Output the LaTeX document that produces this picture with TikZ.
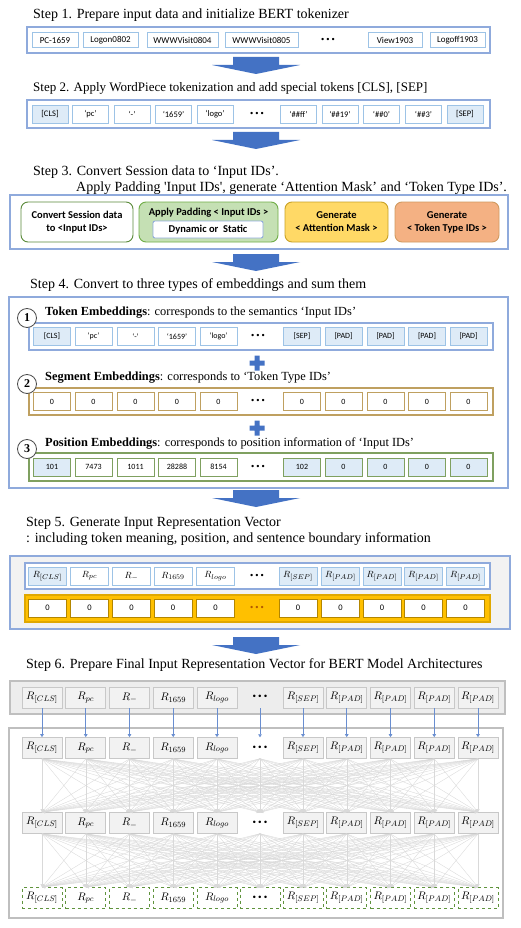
\documentclass[tikz,border=0pt]{standalone}
\usepackage{fontspec}
\setmainfont{Liberation Serif}
\newfontfamily\calf{Carlito}
\newfontfamily\dvs{DejaVu Sans}
\usetikzlibrary{arrows.meta}
\definecolor{arrowblue}{HTML}{4472C4}
\definecolor{boxblue}{HTML}{8FAADC}
\definecolor{cellblue}{HTML}{9DC3E6}
\definecolor{lightblue}{HTML}{DEEBF7}
\definecolor{grn}{HTML}{70AD47}
\definecolor{grnfill}{HTML}{C5E0B4}
\definecolor{yel}{HTML}{FFD966}
\definecolor{yelb}{HTML}{C9A227}
\definecolor{org}{HTML}{F4B183}
\definecolor{orgb}{HTML}{D09A60}
\definecolor{tan}{HTML}{BFA060}
\definecolor{posg}{HTML}{7FA060}
\definecolor{gold}{HTML}{FFC000}
\definecolor{goldb}{HTML}{E0A800}
\definecolor{gbox}{HTML}{BFBFBF}
\definecolor{gcell}{HTML}{C8C8C8}
\definecolor{netg}{HTML}{D9D9D9}
\tikzset{
  titlef/.style={anchor=west, inner sep=0pt, font=\fontsize{14}{16}\selectfont},
  labf/.style={anchor=west, inner sep=0pt, font=\fontsize{12.4}{14}\selectfont},
  cellA/.style={draw=cellblue, line width=0.8pt, fill=white, inner sep=0pt, minimum height=15pt, font=\calf\fontsize{9}{10}\selectfont},
  cellB/.style={draw=cellblue, line width=0.8pt, inner sep=0pt, minimum width=36pt, minimum height=18pt, font=\calf\fontsize{8.5}{10}\selectfont},
  cellC/.style={line width=0.8pt, inner sep=0pt, minimum width=37pt, minimum height=18pt, font=\calf\fontsize{8}{10}\selectfont},
  cellD/.style={line width=0.8pt, inner sep=0pt, minimum width=38pt, minimum height=18pt, font=\fontsize{9.5}{10}\selectfont},
  cellE/.style={draw=gcell, fill=white!95!black, line width=0.7pt, inner sep=0pt, minimum width=40pt, minimum height=21pt, font=\fontsize{11}{12}\selectfont},
  dotsn/.style={inner sep=0pt, font=\dvs\fontsize{8}{9}\selectfont},
  rbox/.style={rounded corners=7pt, line width=0.9pt, inner sep=0pt, minimum height=40pt},
  boxtxt/.style={font=\calf\bfseries\fontsize{10.5}{13}\selectfont, align=center, inner sep=0pt},
  numc/.style={circle, draw=black!70, fill=white, line width=0.8pt, inner sep=0pt, minimum size=19pt, font=\bfseries\fontsize{12}{12}\selectfont},
  netline/.style={draw=netg, line width=0.35pt, -{Triangle[width=3pt,length=3pt]}},
  bluel/.style={draw=arrowblue!80, line width=0.6pt, -{Triangle[width=3.5pt,length=3pt]}},
}
\newcommand\bigarrow[1]{\fill[arrowblue] (233,#1) -- ++(46,0) -- ++(0,8) -- ++(21,0) -- (256,{#1+17}) -- (212,{#1+8}) -- ++(21,0) -- cycle;}
\newcommand\plussign[2]{\fill[arrowblue] ({#1-2.5},{#2-7.5}) rectangle ({#1+2.5},{#2+7.5}) ({#1-7.5},{#2-2.5}) rectangle ({#1+7.5},{#2+2.5});}
\newcommand\tdots{•\kern0.6pt•\kern0.6pt•}
\begin{document}
\begin{tikzpicture}[x=1pt,y=-1pt]
\useasboundingbox (0,0) rectangle (521,928);
\fill[white] (0,0) rectangle (521,928);

% ---------------- Step 1
\node[titlef] (t1) at (33,15) {Step 1. Prepare input data and initialize BERT tokenizer};
\draw[draw=boxblue, line width=1.3pt, fill=white] (27,27) rectangle (490,53);
\foreach \n/\a/\b/\t in {a/32/78/PC-1659, b/83/138/Logon0802, c/147/218/WWWVisit0804, d/225/298/WWWVisit0805, e/368/422/View1903, f/430/485/Logoff1903}
  \node[cellA, minimum width={(\b-\a)*1pt}] (s1\n) at ({(\a+\b)/2},40) {\t};
\node[dotsn] (s1dots) at (328,40) {\tdots};
\bigarrow{57}

% ---------------- Step 2
\node[titlef, font=\fontsize{13}{15}\selectfont] (t2) at (33,88) {Step 2. Apply WordPiece tokenization and add special tokens [CLS], [SEP]};
\draw[draw=boxblue, line width=1.3pt, fill=white] (27,100) rectangle (490,128);
\foreach \n/\x/\t/\f in {a/50/{[CLS]}/lightblue, b/90.5/‘pc’/white, c/132/‘-’/white, d/173.5/‘1659’/white, e/215/‘logo’/white, f/298.5/‘\#\#ff’/white, g/340/‘\#\#19’/white, h/381.5/‘\#\#0’/white, i/423.5/‘\#\#3’/white, j/465/{[SEP]}/lightblue}
  \node[cellB, fill=\f] (s2\n) at (\x,114) {\t};
\node[dotsn] (s2dots) at (257,114) {\tdots};
\bigarrow{132}

% ---------------- Step 3
\node[titlef] (t3a) at (33,172) {Step 3. Convert Session data to ‘Input IDs’.};
\node[titlef] (t3b) at (76,188) {Apply Padding \textquotesingle Input IDs\textquotesingle, generate ‘Attention Mask’ and ‘Token Type IDs’.};
\draw[draw=boxblue, line width=1.1pt, fill=white] (10,195) rectangle (508,249);
\node[rbox, draw=grn!80!black, fill=white, minimum width=112pt] (b31) at (77,222) {};
\node[boxtxt] (b31t) at (77,222) {Convert Session data\\to <Input IDs>};
\node[rbox, draw=grn, fill=grnfill, minimum width=139pt] (b32) at (208.5,222) {};
\node[boxtxt] (b32t) at (208.5,213) {Apply Padding < Input IDs >};
\node[draw=boxblue, line width=0.9pt, fill=white, rounded corners=2pt, minimum width=110pt, minimum height=17pt, inner sep=0pt, font=\calf\bfseries\fontsize{10.5}{11}\selectfont] (b32i) at (208,229.5) {Dynamic or \ Static};
\node[rbox, draw=yelb, fill=yel, minimum width=103pt] (b33) at (336.5,222) {};
\node[boxtxt] (b33t) at (336.5,222) {Generate\\< Attention Mask >};
\node[rbox, draw=orgb, fill=org, minimum width=104pt] (b34) at (447,222) {};
\node[boxtxt] (b34t) at (447,222) {Generate\\< Token Type IDs >};
\bigarrow{254}

% ---------------- Step 4
\node[titlef] (t4) at (30,285) {Step 4. Convert to three types of embeddings and sum them};
\draw[draw=boxblue, line width=1.1pt, fill=white] (9,297) rectangle (508,488);
% token row
\draw[draw=boxblue, line width=1.1pt, fill=white] (29,323) rectangle (493,350);
\foreach \n/\x/\t/\f in {0/52/{[CLS]}/lightblue, 1/93.5/‘pc’/white, 2/135.5/‘-’/white, 3/177/‘1659’/white, 4/218.5/‘logo’/white, 6/302/{[SEP]}/lightblue, 7/343.5/{[PAD]}/lightblue, 8/385.5/{[PAD]}/lightblue, 9/427/{[PAD]}/lightblue, 10/468.5/{[PAD]}/lightblue}
  \node[cellC, draw=cellblue, fill=\f] (tk\n) at (\x,336.5) {\t};
\node[dotsn] (tk5) at (258,336.5) {\tdots};
% segment row
\draw[draw=tan, line width=1.1pt, fill=white] (29,388) rectangle (493,415);
\foreach \n/\x in {0/52, 1/93.5, 2/135.5, 3/177, 4/218.5, 6/302, 7/343.5, 8/385.5, 9/427, 10/468.5}
  \node[cellC, draw=tan, fill=white] (sg\n) at (\x,401.5) {0};
\node[dotsn] (sg5) at (258,401.5) {\tdots};
% position row
\draw[draw=posg, line width=1.1pt, fill=white] (29,453) rectangle (493,481);
\foreach \n/\x/\t/\f in {0/52/101/lightblue, 1/93.5/7473/white, 2/135.5/1011/white, 3/177/28288/white, 4/218.5/8154/white, 6/302/102/lightblue, 7/343.5/0/lightblue, 8/385.5/0/lightblue, 9/427/0/lightblue, 10/468.5/0/lightblue}
  \node[cellC, draw=posg, fill=\f] (ps\n) at (\x,467) {\t};
\node[dotsn] (ps5) at (258,467) {\tdots};
% labels
\node[numc] (c1) at (27,318) {1};
\node[labf] (l1) at (45,313) {\textbf{Token Embeddings}: corresponds to the semantics ‘Input IDs’};
\plussign{257}{363}
\node[numc] (c2) at (27,384) {2};
\node[labf] (l2) at (45,378) {\textbf{Segment Embeddings}: corresponds to ‘Token Type IDs’};
\plussign{257}{428}
\node[numc] (c3) at (27,449) {3};
\node[labf] (l3) at (45,443) {\textbf{Position Embeddings}: corresponds to position information of ‘Input IDs’};
\bigarrow{490}

% ---------------- Step 5
\node[titlef] (t5a) at (26,523) {Step 5. Generate Input Representation Vector};
\node[titlef] (t5b) at (26,539) {: including token meaning, position, and sentence boundary information};
\draw[draw=boxblue, line width=1.1pt, fill=black!5] (10,556) rectangle (510,629);
\draw[draw=boxblue, line width=1.1pt, fill=white] (25,563) rectangle (490,589);
\draw[draw=goldb, line width=1.1pt, fill=gold] (25,595) rectangle (490,622);
\foreach \n/\x/\t/\f in {0/47.5/{$R_{[CLS]}$}/lightblue, 1/89.5/{$R_{pc}$}/white, 2/131.5/{$R_{-}$}/white, 3/173/{$R_{1659}$}/white, 4/215.5/{$R_{logo}$}/white, 6/298/{$R_{[SEP]}$}/lightblue, 7/340.5/{$R_{[PAD]}$}/lightblue, 8/382/{$R_{[PAD]}$}/lightblue, 9/423.5/{$R_{[PAD]}$}/lightblue, 10/465.5/{$R_{[PAD]}$}/lightblue}
  \node[cellD, draw=cellblue, fill=\f] (rv\n) at (\x,576) {\t};
\node[dotsn] (rv5) at (257,576) {\tdots};
\foreach \n/\x in {0/47.5, 1/89.5, 2/131.5, 3/173, 4/215.5, 6/298, 7/340.5, 8/382, 9/423.5, 10/465.5}
  \node[cellD, draw=goldb!80!black, fill=white, font=\calf\fontsize{8.5}{10}\selectfont] (zr\n) at (\x,608) {0};
\node[dotsn, text=orange!70!black] (zr5) at (257,608) {\tdots};
\bigarrow{637}

% ---------------- Step 6
\node[titlef] (t6) at (26,665) {Step 6. Prepare Final Input Representation Vector for BERT Model Architectures};
\draw[draw=gbox, line width=1.2pt, fill=black!7] (10,681) rectangle (505,714);
\draw[draw=gbox, line width=2.5pt, fill=white] (9,728) rectangle (503,918);
\foreach \row/\y/\sty in {tp/697.5/solid, ra/748/solid, rb/823/solid, rc/898/dashed} {
  \foreach \n/\x/\t in {0/42/{$R_{[CLS]}$}, 1/85.75/{$R_{pc}$}, 2/129.5/{$R_{-}$}, 3/173.25/{$R_{1659}$}, 4/217/{$R_{logo}$}, 6/303/{$R_{[SEP]}$}, 7/346.75/{$R_{[PAD]}$}, 8/390.5/{$R_{[PAD]}$}, 9/434.25/{$R_{[PAD]}$}, 10/478/{$R_{[PAD]}$}}
    \node[cellE, \sty] (\row\n) at (\x,\y) {\t};
  \node[dotsn, minimum height=21pt, font=\dvs\fontsize{8.5}{9}\selectfont] (\row5) at (260,\y) {\tdots};
}
\foreach \n in {0,...,10} \node[cellE, dashed, draw=grn!85!black, line width=0.9pt, fill=white] (rcx\n) at (rc\n) {};
\foreach \n/\t in {0/{$R_{[CLS]}$}, 1/{$R_{pc}$}, 2/{$R_{-}$}, 3/{$R_{1659}$}, 4/{$R_{logo}$}, 6/{$R_{[SEP]}$}, 7/{$R_{[PAD]}$}, 8/{$R_{[PAD]}$}, 9/{$R_{[PAD]}$}, 10/{$R_{[PAD]}$}}
  \node[font=\fontsize{11}{12}\selectfont, inner sep=0pt] (rcl\n) at (rc\n) {\t};
\node[dotsn, font=\dvs\fontsize{8.5}{9}\selectfont, fill=white] (rcd) at (rc5) {\tdots};
\foreach \n in {0,...,10} \draw[bluel] (tp\n.south) -- (ra\n.north);
\foreach \i in {0,...,10} \foreach \j in {0,...,10} {
  \draw[netline] (ra\i.south) -- (rb\j.north);
  \draw[netline] (rb\i.south) -- (rc\j.north);
}
\end{tikzpicture}
\end{document}
